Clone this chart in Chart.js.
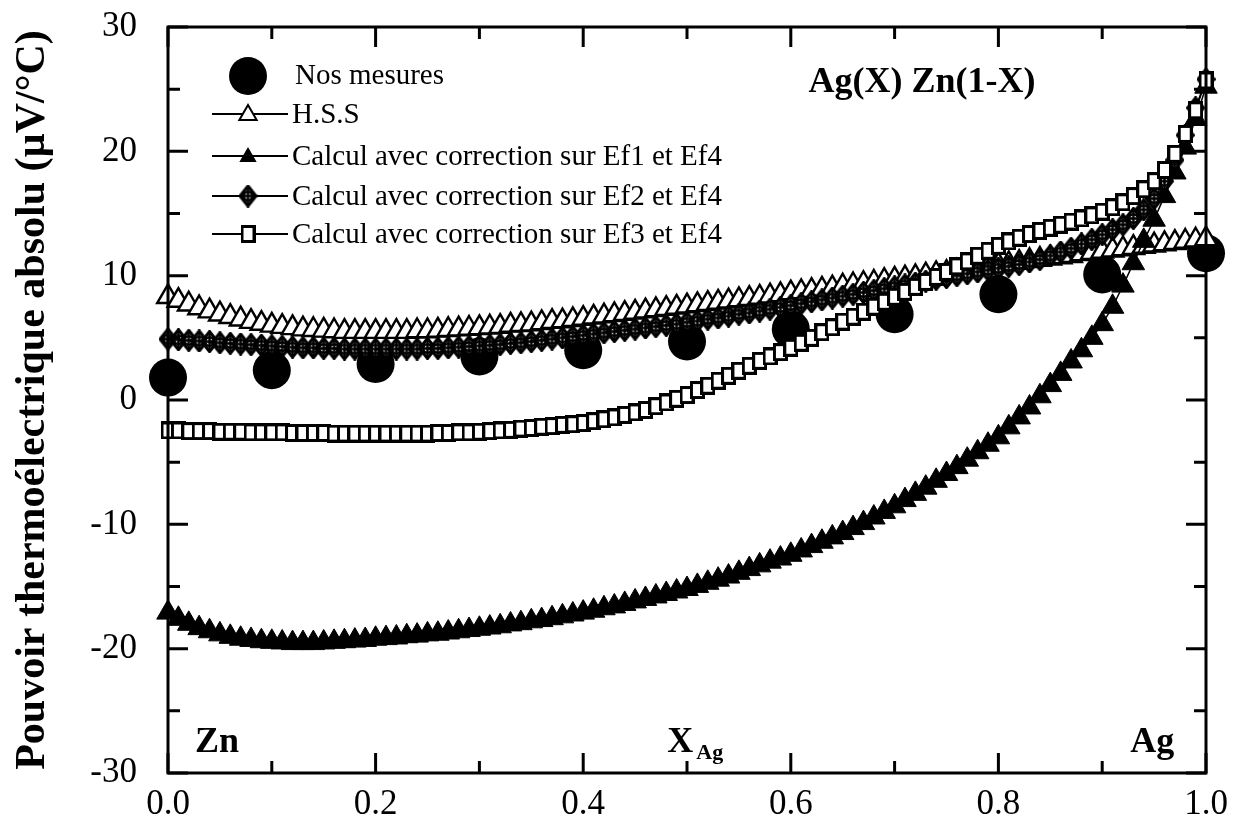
<!DOCTYPE html>
<html><head><meta charset="utf-8">
<script src="https://cdn.jsdelivr.net/npm/chart.js@4"></script>
<style>html,body{margin:0;padding:0;background:#fff;}</style>
</head><body>
<canvas id="c" width="1251" height="832"></canvas>
<script>
const xs = [0.00,0.01,0.02,0.03,0.04,0.05,0.06,0.07,0.08,0.09,
0.10,0.11,0.12,0.13,0.14,0.15,0.16,0.17,0.18,0.19,
0.20,0.21,0.22,0.23,0.24,0.25,0.26,0.27,0.28,0.29,
0.30,0.31,0.32,0.33,0.34,0.35,0.36,0.37,0.38,0.39,
0.40,0.41,0.42,0.43,0.44,0.45,0.46,0.47,0.48,0.49,
0.50,0.51,0.52,0.53,0.54,0.55,0.56,0.57,0.58,0.59,
0.60,0.61,0.62,0.63,0.64,0.65,0.66,0.67,0.68,0.69,
0.70,0.71,0.72,0.73,0.74,0.75,0.76,0.77,0.78,0.79,
0.80,0.81,0.82,0.83,0.84,0.85,0.86,0.87,0.88,0.89,
0.90,0.91,0.92,0.93,0.94,0.95,0.96,0.97,0.98,0.99,1.00];

const xsMes = [0.0,0.1,0.2,0.3,0.4,0.5,0.6,0.7,0.8,0.9,1.0];
const mesures = [1.8,2.4,2.9,3.5,4.0,4.7,5.7,6.9,8.5,10.1,11.8];

const hss = [8.3,8.0,7.7,7.4,7.15,6.9,6.7,6.5,6.3,6.15,
6.0,5.9,5.8,5.7,5.65,5.6,5.55,5.5,5.5,5.5,
5.5,5.5,5.5,5.5,5.55,5.55,5.6,5.65,5.7,5.75,
5.8,5.85,5.9,6.0,6.05,6.1,6.2,6.3,6.35,6.45,
6.55,6.65,6.75,6.85,6.95,7.05,7.15,7.25,7.35,7.45,
7.55,7.65,7.75,7.85,7.95,8.05,8.15,8.25,8.35,8.45,
8.6,8.7,8.8,8.9,9.0,9.15,9.25,9.35,9.45,9.6,
9.7,9.8,9.9,10.05,10.15,10.25,10.35,10.5,10.6,10.7,
10.85,10.95,11.05,11.2,11.3,11.4,11.5,11.6,11.75,11.85,
11.95,12.05,12.15,12.25,12.35,12.45,12.55,12.65,12.75,12.85,12.95];

const ef1 = [-17.1,-17.6,-18.0,-18.35,-18.6,-18.85,-19.05,-19.2,-19.3,-19.4,
-19.45,-19.5,-19.55,-19.55,-19.55,-19.5,-19.45,-19.4,-19.35,-19.3,
-19.2,-19.15,-19.1,-19.0,-18.95,-18.85,-18.8,-18.7,-18.6,-18.5,
-18.4,-18.3,-18.2,-18.05,-17.95,-17.8,-17.7,-17.55,-17.4,-17.25,
-17.1,-16.95,-16.75,-16.6,-16.4,-16.2,-16.0,-15.8,-15.6,-15.4,
-15.2,-14.95,-14.7,-14.45,-14.2,-13.9,-13.6,-13.3,-13.0,-12.75,
-12.45,-12.1,-11.75,-11.4,-11.05,-10.7,-10.3,-9.9,-9.45,-9.0,
-8.55,-8.05,-7.55,-7.05,-6.5,-5.95,-5.4,-4.8,-4.2,-3.6,
-3.0,-2.2,-1.4,-0.6,0.3,1.2,2.1,3.1,4.0,5.0,
6.1,7.5,9.2,11.0,12.8,14.5,16.4,18.3,20.3,22.6,25.2];

const ef2 = [4.9,4.85,4.8,4.75,4.7,4.6,4.55,4.5,4.45,4.4,
4.35,4.3,4.25,4.2,4.2,4.15,4.15,4.1,4.1,4.1,
4.1,4.1,4.1,4.1,4.1,4.15,4.15,4.2,4.25,4.3,
4.35,4.4,4.45,4.55,4.6,4.7,4.8,4.9,5.0,5.1,
5.2,5.3,5.4,5.5,5.6,5.7,5.8,5.9,6.0,6.1,
6.25,6.35,6.5,6.6,6.75,6.9,7.0,7.15,7.3,7.45,
7.6,7.75,7.9,8.05,8.2,8.35,8.5,8.65,8.8,8.95,
9.1,9.25,9.4,9.55,9.7,9.85,10.0,10.15,10.3,10.45,
10.6,10.75,10.9,11.1,11.3,11.6,11.9,12.2,12.55,12.9,
13.3,13.7,14.1,14.6,15.3,16.2,17.6,19.3,21.3,23.5,25.8];

const ef3 = [-2.45,-2.45,-2.5,-2.5,-2.5,-2.55,-2.55,-2.55,-2.6,-2.6,
-2.6,-2.6,-2.65,-2.65,-2.65,-2.65,-2.7,-2.7,-2.7,-2.7,
-2.7,-2.7,-2.7,-2.7,-2.7,-2.7,-2.65,-2.65,-2.6,-2.6,
-2.55,-2.5,-2.45,-2.4,-2.3,-2.25,-2.15,-2.1,-2.0,-1.95,
-1.85,-1.7,-1.55,-1.4,-1.2,-1.0,-0.8,-0.5,-0.2,0.1,
0.4,0.8,1.15,1.55,1.95,2.35,2.75,3.15,3.5,3.85,
4.2,4.6,5.0,5.45,5.85,6.3,6.7,7.1,7.5,7.9,
8.3,8.7,9.1,9.5,9.9,10.3,10.75,11.15,11.6,12.0,
12.4,12.75,13.05,13.35,13.6,13.85,14.1,14.35,14.6,14.85,
15.15,15.5,15.9,16.4,16.95,17.6,18.5,19.8,21.4,23.3,25.7];

const xTicks = [0.0,0.2,0.4,0.6,0.8,1.0];
const yTicks = [-30,-20,-10,0,10,20,30];
const labels = ['Nos mesures','H.S.S','Calcul avec correction sur Ef1 et Ef4','Calcul avec correction sur Ef2 et Ef4','Calcul avec correction sur Ef3 et Ef4'];
const yTitle = 'Pouvoir thermoélectrique absolu (µV/°C)';

const SERIF = "'Liberation Serif','Times New Roman',serif";

function pts(xa, ya){ return xa.map((x,i)=>({x:x, y:ya[i]})); }

function makeDiamond(){
  const c=document.createElement('canvas'); c.width=19; c.height=23;
  const g=c.getContext('2d');
  g.beginPath(); g.moveTo(9.5,1.5); g.lineTo(17.5,11.5); g.lineTo(9.5,21.5); g.lineTo(1.5,11.5); g.closePath();
  g.fillStyle='#fff'; g.fill(); g.lineWidth=3; g.strokeStyle='#000'; g.stroke();
  g.beginPath(); g.arc(9.5,11.5,4.3,0,Math.PI*2); g.lineWidth=2.4; g.stroke();
  g.beginPath(); g.moveTo(9.5,1.5); g.lineTo(9.5,21.5); g.moveTo(1.5,11.5); g.lineTo(17.5,11.5); g.lineWidth=2.4; g.stroke();
  return c;
}
function makeSquare(){
  const c=document.createElement('canvas'); c.width=15; c.height=18;
  const g=c.getContext('2d');
  g.fillStyle='#fff'; g.fillRect(0,0,15,18);
  g.lineWidth=3; g.strokeStyle='#000'; g.strokeRect(1.5,1.5,12,15);
  return c;
}
const diamondImg = makeDiamond();
const squareImg = makeSquare();

function tri(ctx,x,y,r,filled){
  ctx.beginPath();
  ctx.moveTo(x, y-r);
  ctx.lineTo(x + r*Math.sin(2*Math.PI/3), y - r*Math.cos(2*Math.PI/3));
  ctx.lineTo(x + r*Math.sin(4*Math.PI/3), y - r*Math.cos(4*Math.PI/3));
  ctx.closePath();
  if(filled){ctx.fillStyle='#000'; ctx.fill();}
  else {ctx.fillStyle='#fff'; ctx.fill(); ctx.lineWidth=2; ctx.strokeStyle='#000'; ctx.stroke();}
}

const frameTicks = {
  id:'frameTicks',
  afterDatasetsDraw(chart){
    const {ctx, chartArea:a, scales:{x,y}} = chart;
    ctx.save();
    ctx.strokeStyle='#000'; ctx.lineWidth=3;
    ctx.strokeRect(a.left, a.top, a.right-a.left, a.bottom-a.top);
    ctx.beginPath();
    for(let v=-30; v<=30; v+=5){
      const p=y.getPixelForValue(v); const L=(v%10===0)?20:12;
      ctx.moveTo(a.left,p); ctx.lineTo(a.left+L,p);
      ctx.moveTo(a.right,p); ctx.lineTo(a.right-L,p);
    }
    for(let k=0;k<=10;k++){
      const v=k/10; const p=x.getPixelForValue(v); const L=(k%2===0)?20:12;
      ctx.moveTo(p,a.top); ctx.lineTo(p,a.top+L);
      ctx.moveTo(p,a.bottom); ctx.lineTo(p,a.bottom-L);
    }
    ctx.stroke();
    ctx.restore();
  },
  afterDraw(chart){
    const {ctx, scales:{x,y}} = chart;
    ctx.save();
    ctx.fillStyle='#000';
    const lx0=212, lx1=288, mx=248, tx=292;
    ctx.beginPath(); ctx.arc(mx,76,19,0,Math.PI*2); ctx.fill();
    ctx.font="29px "+SERIF; ctx.textBaseline='alphabetic'; ctx.textAlign='left';
    ctx.fillText(labels[0], 295, 84);
    const rows=[{y:114,t:'to'},{y:156,t:'tf'},{y:196,t:'d'},{y:234,t:'s'}];
    rows.forEach((r,i)=>{
      ctx.strokeStyle='#000'; ctx.lineWidth=2;
      ctx.beginPath(); ctx.moveTo(lx0,r.y); ctx.lineTo(lx1,r.y); ctx.stroke();
      if(r.t==='to') tri(ctx,mx,r.y+1,10,false);
      if(r.t==='tf') tri(ctx,mx,r.y+1,10,true);
      if(r.t==='d') ctx.drawImage(diamondImg, mx-9.5, r.y-11.5);
      if(r.t==='s') ctx.drawImage(squareImg, mx-7.5, r.y-9);
      ctx.fillStyle='#000';
      ctx.fillText(labels[i+1], tx, r.y+9);
    });
    ctx.font="bold 36px "+SERIF;
    ctx.fillText('Ag(X) Zn(1-X)', x.getPixelForValue(0.617), y.getPixelForValue(24.8));
    ctx.fillText('Zn', x.getPixelForValue(0.026), y.getPixelForValue(-28.3));
    ctx.fillText('Ag', x.getPixelForValue(0.927), y.getPixelForValue(-28.3));
    ctx.fillText('X', x.getPixelForValue(0.481), y.getPixelForValue(-28.3));
    ctx.font="bold 22px "+SERIF;
    ctx.fillText('Ag', x.getPixelForValue(0.509), y.getPixelForValue(-28.9));
    ctx.restore();
  }
};

new Chart(document.getElementById('c'), {
  type:'scatter',
  data:{ datasets:[
    {label:labels[4], data:pts(xs,ef3), showLine:true, borderColor:'#000', borderWidth:1.5,
     pointStyle:squareImg, pointRadius:8, order:0, clip:false},
    {label:labels[3], data:pts(xs,ef2), showLine:true, borderColor:'#000', borderWidth:1.5,
     pointStyle:diamondImg, pointRadius:9, order:1, clip:false},
    {label:labels[2], data:pts(xs,ef1), showLine:true, borderColor:'#000', borderWidth:1.5,
     pointStyle:'triangle', pointRadius:13, pointBackgroundColor:'#000', pointBorderColor:'#000', pointBorderWidth:1, order:2, clip:false},
    {label:labels[1], data:pts(xs,hss), showLine:true, borderColor:'#000', borderWidth:1.5,
     pointStyle:'triangle', pointRadius:12.5, pointBackgroundColor:'#fff', pointBorderColor:'#000', pointBorderWidth:2.4, order:3, clip:false},
    {label:labels[0], data:pts(xsMes,mesures), showLine:false,
     pointStyle:'circle', pointRadius:19, pointBackgroundColor:'#000', pointBorderWidth:0, order:4, clip:false}
  ]},
  options:{
    responsive:false, animation:false, devicePixelRatio:1,
    layout:{padding:{top:27,right:45,left:0,bottom:0}},
    plugins:{legend:{display:false}, tooltip:{enabled:false}},
    scales:{
      x:{type:'linear', min:0, max:1, position:'bottom',
         afterBuildTicks(s){ s.ticks = xTicks.map(v=>({value:v})); },
         ticks:{callback:v=>Number(v).toFixed(1), font:{family:SERIF,size:35}, color:'#000', padding:11, maxRotation:0, autoSkip:false},
         grid:{display:false, drawTicks:false}, border:{display:false},
         afterFit(s){ s.height=59; s.paddingLeft=0; s.paddingRight=0; }},
      y:{type:'linear', min:-30, max:30,
         afterBuildTicks(s){ s.ticks = yTicks.map(v=>({value:v})); },
         ticks:{font:{family:SERIF,size:35}, color:'#000', padding:31, autoSkip:false},
         grid:{display:false, drawTicks:false}, border:{display:false},
         title:{display:true, text:yTitle, color:'#000', font:{family:SERIF,size:42,weight:'bold'}, padding:{top:8,bottom:0}},
         afterFit(s){ s.width=168; s.paddingTop=0; s.paddingBottom=0; }}
    }
  },
  plugins:[frameTicks]
});
</script>
</body></html>
